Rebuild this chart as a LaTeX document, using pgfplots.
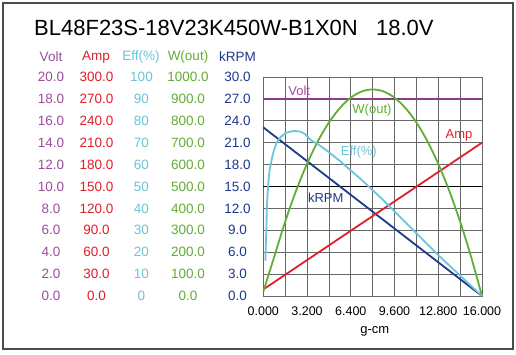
\documentclass[border=0pt]{standalone}
\usepackage{fontspec}
\setmainfont{Liberation Sans}
\usepackage{pgfplots}
\pgfplotsset{compat=1.18}
\definecolor{cvolt}{RGB}{156,78,156}
\definecolor{cvoltline}{RGB}{140,58,140}
\definecolor{camp}{RGB}{222,32,42}
\definecolor{ceff}{RGB}{110,196,216}
\definecolor{cw}{RGB}{98,174,52}
\definecolor{ckrpm}{RGB}{30,58,140}
\newcommand{\fs}[1]{\fontsize{#1}{#1}\selectfont}
\pgfplotsset{
  base/.style={scale only axis, width=218.7bp, height=219bp,
    at={(263.3bp,-296bp)}, anchor=south west, xmin=0, xmax=16,
    major tick length=0pt, ticklabel style={font=\fs{13.5bp}}},
  col/.style n args={3}{base, axis line style={draw=none}, xtick=\empty,
    ymin=0, ymax=#1, yticklabel style={anchor=center, xshift=#2, text=#3}}
}
\begin{document}
\begin{tikzpicture}
\useasboundingbox (0,0) rectangle (516bp,-355bp);
\fill[white] (0,0) rectangle (516bp,-355bp);
\draw[line width=1.4bp, black!70] (3bp,-3bp) rectangle (513bp,-349bp);
\node[anchor=base west, font=\fs{22bp}, inner sep=0pt] at (34bp,-35bp) {BL48F23S-18V23K450W-B1X0N\ \ \ 18.0V};
\node[font=\fs{13.5bp}, text=cvolt] at (51bp,-57bp) {Volt};
\node[font=\fs{13.5bp}, text=camp] at (96bp,-57bp) {Amp};
\node[font=\fs{13.5bp}, text=ceff] at (141bp,-57bp) {Eff(\%)};
\node[font=\fs{13.5bp}, text=cw] at (188bp,-57bp) {W(out)};
\node[font=\fs{13.5bp}, text=ckrpm] at (237.5bp,-57bp) {kRPM};

\begin{axis}[col={20}{-212.3bp}{cvolt}, ytick={0,2,4,6,8,10,12,14,16,18,20},
  yticklabels={0.0,2.0,4.0,6.0,8.0,10.0,12.0,14.0,16.0,18.0,20.0}]
\addplot[draw=none] coordinates {(0,0)};
\end{axis}
\begin{axis}[col={300}{-166.8bp}{camp}, ytick={0,30,60,90,120,150,180,210,240,270,300},
  yticklabels={0.0,30.0,60.0,90.0,120.0,150.0,180.0,210.0,240.0,270.0,300.0}]
\addplot[draw=none] coordinates {(0,0)};
\end{axis}
\begin{axis}[col={100}{-121.8bp}{ceff}, ytick={0,10,20,30,40,50,60,70,80,90,100},
  yticklabels={0,10,20,30,40,50,60,70,80,90,100}]
\addplot[draw=none] coordinates {(0,0)};
\end{axis}
\begin{axis}[col={1000}{-75.3bp}{cw}, ytick={0,100,200,300,400,500,600,700,800,900,1000},
  yticklabels={0.0,100.0,200.0,300.0,400.0,500.0,600.0,700.0,800.0,900.0,1000.0}]
\addplot[draw=none] coordinates {(0,0)};
\end{axis}

\begin{axis}[base, ymin=0, ymax=30,
  xtick={0,1.6,3.2,4.8,6.4,8,9.6,11.2,12.8,14.4,16},
  xticklabels={0.000,,3.200,,6.400,,9.600,,12.800,,16.000},
  ytick={0,3,6,9,12,15,18,21,24,27,30},
  yticklabels={0.0,3.0,6.0,9.0,12.0,15.0,18.0,21.0,24.0,27.0,30.0},
  yticklabel style={anchor=center, xshift=-25.8bp, text=ckrpm},
  xticklabel style={anchor=center, yshift=-15bp, font=\fs{12.5bp}},
  grid=major, major grid style={line width=0.8bp, color=black!60},
  axis line style={line width=0.8bp, color=black!60},
  extra y ticks={15}, extra y tick labels={},
  extra y tick style={grid=major, major grid style={line width=0.8bp, color=black}},
  xlabel={g-cm},
  xlabel style={at={(axis description cs:0.51,0)}, anchor=center, yshift=-35bp, font=\fs{13bp}},
  clip=false]
\addplot[cvoltline, line width=2.2bp] coordinates {(0,27) (16,27)};
\addplot[ckrpm, line width=1.8bp] coordinates {(0,23.1) (16,0)};
\addplot[camp, line width=1.8bp] coordinates {(0,0.9) (16,21.0)};
\addplot[cw, line width=1.8bp, smooth] coordinates {
 (0,0.6) (0.8,5.38) (1.6,10.19) (2.4,14.43) (3.2,18.11) (4.0,21.23) (4.8,23.77)
 (5.6,25.75) (6.4,27.17) (7.2,28.02) (8.0,28.30) (8.8,28.02) (9.6,27.17)
 (10.4,25.75) (11.2,23.77) (12.0,21.23) (12.8,18.11) (13.6,14.43) (14.4,10.19)
 (15.2,5.38) (16,0)};
\addplot[ceff, line width=1.8bp, smooth, tension=0.4] coordinates {
 (0.15,4.85) (0.22,8.96) (0.27,12.6) (0.37,15.4) (0.46,17.2) (0.71,19.5)
 (0.95,20.85) (1.27,21.76) (1.68,22.36) (2.17,22.59) (2.66,22.54) (3.02,22.22)
 (3.51,21.31) (4.0,20.8) (4.8,19.7) (5.6,18.5) (6.4,17.2) (7.2,15.9) (8.0,14.5)
 (8.8,13.1) (9.6,11.6) (10.4,10.1) (11.2,8.6) (12.0,7.1) (12.8,5.6) (13.6,4.2)
 (14.4,2.8) (15.2,1.4) (16,0)};
\node[text=cvolt, font=\fs{13bp}] at (axis cs:2.63,28.08) {Volt};
\node[text=cw, font=\fs{13bp}] at (axis cs:7.95,25.48) {W(out)};
\node[text=ceff, font=\fs{13bp}] at (axis cs:6.99,19.73) {Eff(\%)};
\node[text=camp, font=\fs{13bp}] at (axis cs:14.32,22.05) {Amp};
\node[text=ckrpm, font=\fs{13bp}] at (axis cs:4.57,13.49) {kRPM};
\end{axis}
\end{tikzpicture}
\end{document}
